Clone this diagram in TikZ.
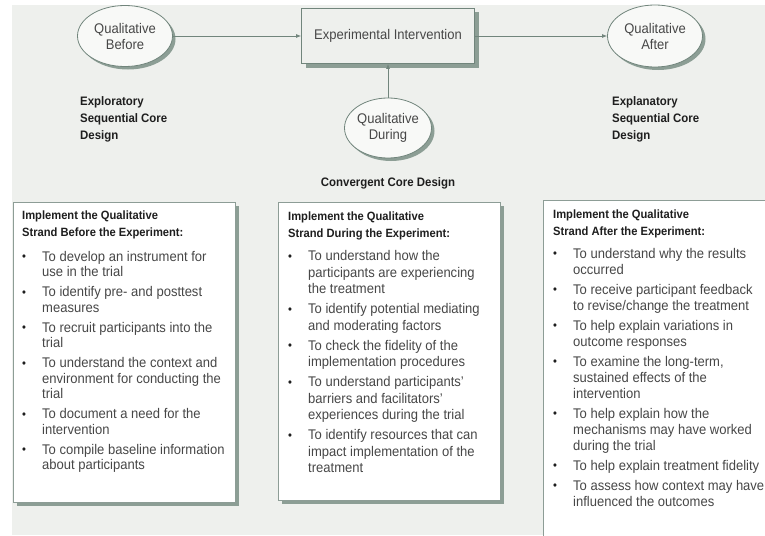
\documentclass[tikz,border=0pt]{standalone}
\usepackage{fontspec}
\setmainfont[FakeStretch=0.93]{Liberation Sans}
\usepackage{array}
\usepackage{tikz}
\usetikzlibrary{shapes.geometric}
\usetikzlibrary{shadows}
\usetikzlibrary{arrows.meta}

\definecolor{panel}{HTML}{EEF0ED}
\definecolor{edge}{HTML}{71857C}
\definecolor{shade}{HTML}{8C9E95}
\definecolor{bodytext}{HTML}{474747}
\definecolor{headtext}{HTML}{1E1E1E}
\definecolor{oval}{HTML}{F8F9F7}

\newcommand{\strandhead}{\fontsize{12}{15.5}\selectfont\bfseries\color{headtext}}
\newcommand{\dotmark}{\raisebox{0.4pt}{\fontsize{12}{12}\selectfont\color{headtext}\textbullet}}

\tikzset{
	qual/.style={ellipse, draw=edge, fill=oval, line width=0.8pt, inner sep=0pt, align=center, text=bodytext, font=\fontsize{14}{16}\selectfont, drop shadow={shadow xshift=3pt, shadow yshift=-3pt, fill=shade, opacity=1}},
	interv/.style={rectangle, draw=edge, fill=panel, line width=0.8pt, inner sep=0pt, text=bodytext, font=\fontsize{14}{16}\selectfont, drop shadow={shadow xshift=4pt, shadow yshift=-4pt, fill=shade, opacity=1}},
	design/.style={inner sep=0pt, align=left, text=headtext, font=\fontsize{12.3}{17}\selectfont\bfseries},
	strandbox/.style={rectangle, draw=edge!80, fill=white, line width=0.6pt, inner sep=0pt, anchor=north west, drop shadow={shadow xshift=4pt, shadow yshift=-4pt, fill=shade, opacity=1}},
	strandtext/.style={inner sep=0pt, anchor=north west, text=bodytext, font=\fontsize{14}{15.5}\selectfont},
	flow/.style={draw=edge, line width=0.8pt, -{Latex[length=5pt,width=4pt]}}
}

\begin{document}
\begin{tikzpicture}[x=1pt,y=-1pt]
			\useasboundingbox (0,0) rectangle (765,535);
			\clip (0,0) rectangle (765,535);
			\fill[panel] (12,5) rectangle (765,535);
			\node[qual, minimum width=95pt, minimum height=61pt] (bef) at (125,36) {Qualitative\\Before};
			\node[interv, minimum width=173pt, minimum height=55pt] (exp) at (388,36) {Experimental Intervention};
			\node[qual, minimum width=95pt, minimum height=62pt] (aft) at (655,36) {Qualitative\\After};
			\node[qual, minimum width=84pt, minimum height=60pt] (dur) at (388,128) {Qualitative\\During};
			\draw[flow] (bef) -- (exp);
			\draw[flow] (exp) -- (aft);
			\draw[flow] (dur) -- (exp);
			\node[design, anchor=north west] (expl) at (80,96) {Exploratory\\Sequential Core\\Design};
			\node[design] (conv) at (388,183) {Convergent Core Design};
			\node[design, anchor=north west] (expn) at (612,96) {Explanatory\\Sequential Core\\Design};
			\node[strandbox, minimum width=222pt, minimum height=300pt] (befbox) at (13,202) {};
			\node[strandbox, minimum width=222pt, minimum height=298pt] (durbox) at (278,202) {};
			\node[strandbox, minimum width=240pt, minimum height=360pt] (aftbox) at (543,200) {};
			\node[strandtext] (beflist) at ([xshift=9pt,yshift=-6.6pt]befbox.north west) {%
				\begin{tabular}{@{}p{20pt}@{}l@{}}
				\multicolumn{2}{@{}l@{}}{\strandhead Implement the Qualitative}\\[1.5pt]
				\multicolumn{2}{@{}l@{}}{\strandhead Strand Before the Experiment:}\\[9pt]
				\dotmark & To develop an instrument for\\
				& use in the trial\\[4.5pt]
				\dotmark & To identify pre- and posttest\\
				& measures\\[4.5pt]
				\dotmark & To recruit participants into the\\
				& trial\\[4.5pt]
				\dotmark & To understand the context and\\
				& environment for conducting the\\
				& trial\\[4.5pt]
				\dotmark & To document a need for the\\
				& intervention\\[4.5pt]
				\dotmark & To compile baseline information\\
				& about participants
				\end{tabular}};
			\node[strandtext, font=\fontsize{14}{16.5}\selectfont] (durlist) at ([xshift=10pt,yshift=-6.6pt]durbox.north west) {%
				\begin{tabular}{@{}p{20pt}@{}l@{}}
				\multicolumn{2}{@{}l@{}}{\strandhead Implement the Qualitative}\\[0.5pt]
				\multicolumn{2}{@{}l@{}}{\strandhead Strand During the Experiment:}\\[7pt]
				\dotmark & To understand how the\\
				& participants are experiencing\\
				& the treatment\\[3.5pt]
				\dotmark & To identify potential mediating\\
				& and moderating factors\\[3.5pt]
				\dotmark & To check the fidelity of the\\
				& implementation procedures\\[3.5pt]
				\dotmark & To understand participants'\\
				& barriers and facilitators'\\
				& experiences during the trial\\[3.5pt]
				\dotmark & To identify resources that can\\
				& impact implementation of the\\
				& treatment
				\end{tabular}};
			\node[strandtext, font=\fontsize{14}{16}\selectfont] (aftlist) at ([xshift=10pt,yshift=-6.6pt]aftbox.north west) {%
				\begin{tabular}{@{}p{20pt}@{}l@{}}
				\multicolumn{2}{@{}l@{}}{\strandhead Implement the Qualitative}\\[1pt]
				\multicolumn{2}{@{}l@{}}{\strandhead Strand After the Experiment:}\\[7pt]
				\dotmark & To understand why the results\\
				& occurred\\[4pt]
				\dotmark & To receive participant feedback\\
				& to revise/change the treatment\\[4pt]
				\dotmark & To help explain variations in\\
				& outcome responses\\[4pt]
				\dotmark & To examine the long-term,\\
				& sustained effects of the\\
				& intervention\\[4pt]
				\dotmark & To help explain how the\\
				& mechanisms may have worked\\
				& during the trial\\[4pt]
				\dotmark & To help explain treatment fidelity\\[4pt]
				\dotmark & To assess how context may have\\
				& influenced the outcomes
				\end{tabular}};
		\end{tikzpicture}
\end{document}
